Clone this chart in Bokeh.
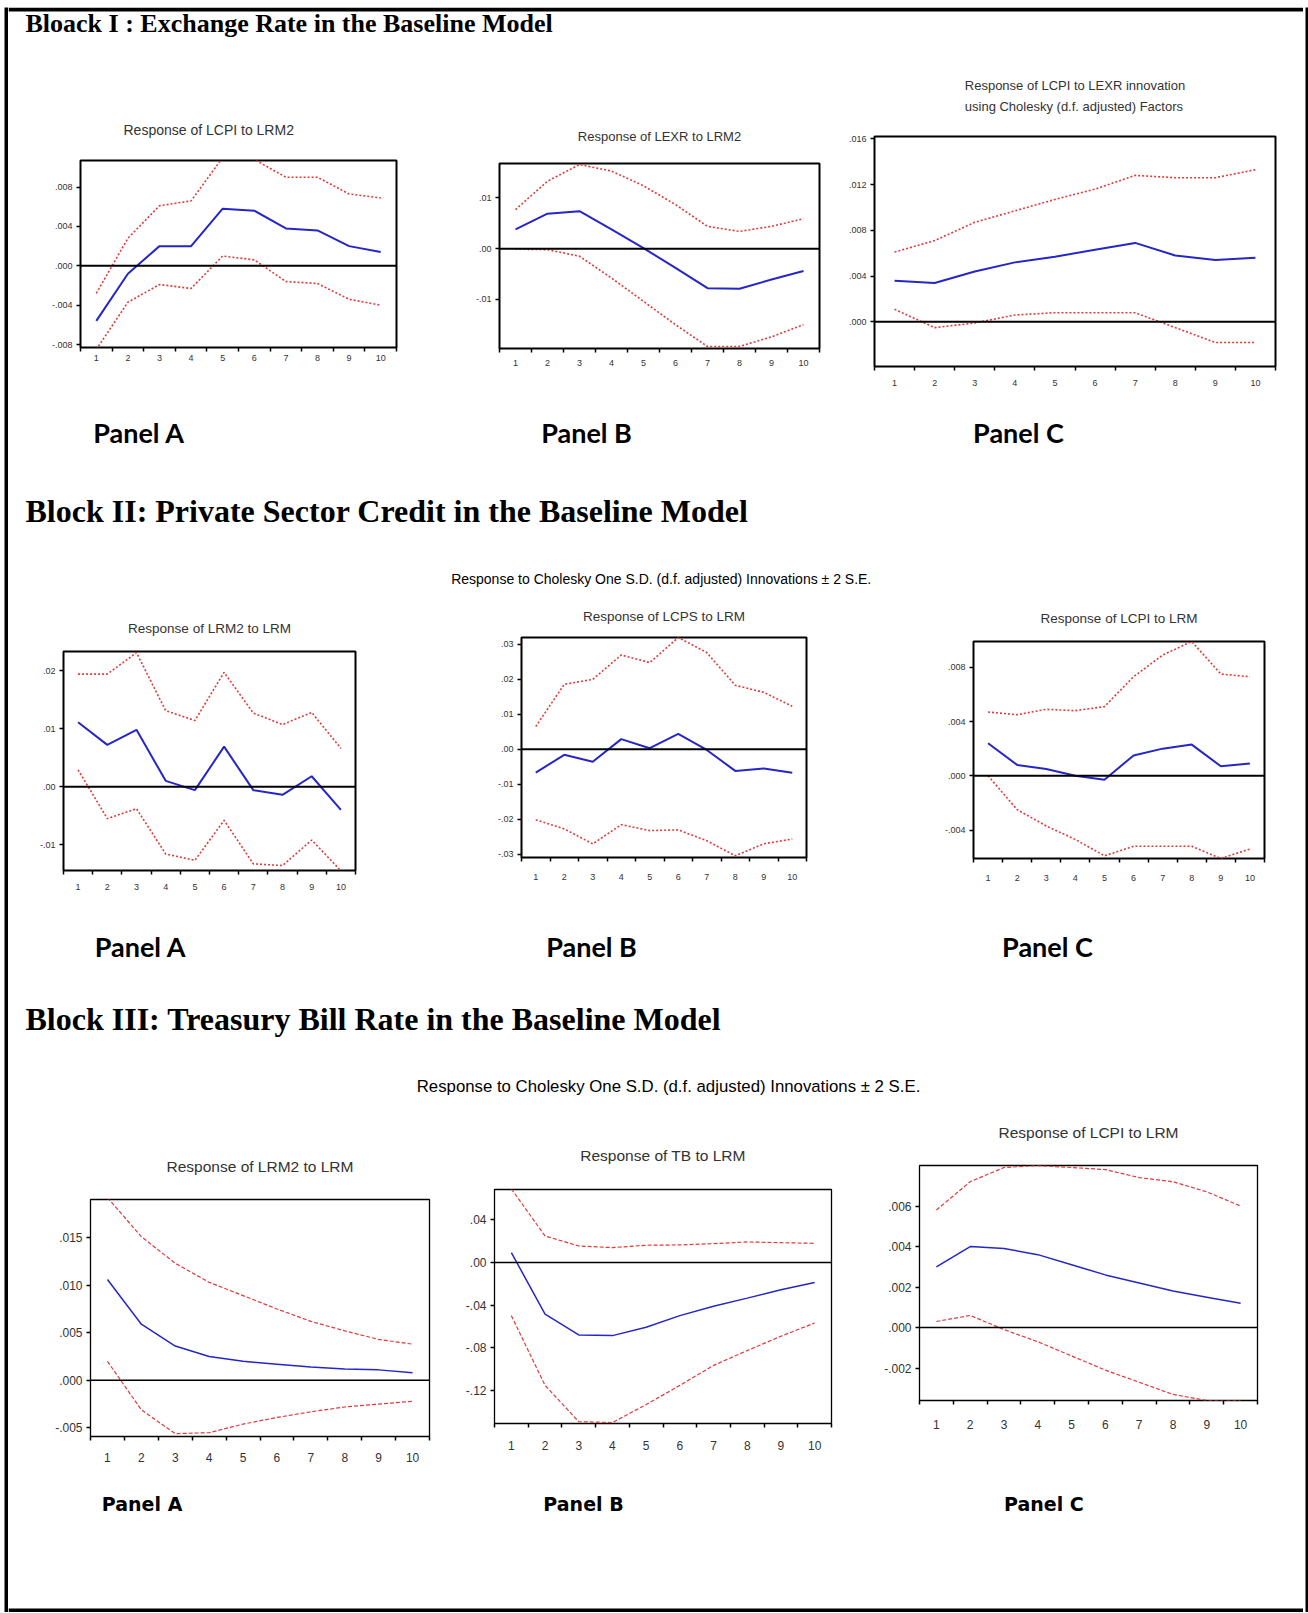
from bokeh.plotting import figure
from bokeh.models import Range1d, FixedTicker, CustomJSTickFormatter, Span, Spacer
from bokeh.layouts import row, column
from bokeh.core.properties import value
from bokeh.embed import file_html
from bokeh.resources import INLINE

# ---------------- data ----------------
periods = list(range(1, 11))

# Block I
a1_resp  = [-0.0056, -0.0008, 0.0020, 0.0020, 0.0058, 0.0056, 0.0038, 0.0036, 0.0020, 0.0014]
a1_upper = [-0.0028, 0.0028, 0.0061, 0.0066, 0.0110, 0.0108, 0.0090, 0.0090, 0.0073, 0.0069]
a1_lower = [-0.0085, -0.0037, -0.0019, -0.0023, 0.0010, 0.0006, -0.0016, -0.0018, -0.0034, -0.0040]

b1_resp  = [0.0038, 0.0069, 0.0074, 0.0038, 0.0001, -0.0038, -0.0078, -0.0079, -0.0061, -0.0044]
b1_upper = [0.0077, 0.0133, 0.0166, 0.0153, 0.0124, 0.0087, 0.0044, 0.0034, 0.0044, 0.0059]
b1_lower = [-0.0001, -0.0002, -0.0015, -0.0058, -0.0104, -0.0150, -0.0193, -0.0193, -0.0174, -0.0150]

c1_resp  = [0.0036, 0.0034, 0.0044, 0.0052, 0.0057, 0.0063, 0.0069, 0.0058, 0.0054, 0.0056]
c1_upper = [0.0061, 0.0071, 0.0087, 0.0097, 0.0107, 0.0116, 0.0128, 0.0126, 0.0126, 0.0133]
c1_lower = [0.0011, -0.0005, -0.0001, 0.0006, 0.0008, 0.0008, 0.0008, -0.0005, -0.0018, -0.0018]

# Block II
a2_resp  = [0.0111, 0.0072, 0.0098, 0.0010, -0.0006, 0.0069, -0.0006, -0.0014, 0.0018, -0.0040]
a2_upper = [0.0194, 0.0194, 0.0231, 0.0131, 0.0114, 0.0197, 0.0127, 0.0107, 0.0128, 0.0066]
a2_lower = [0.0029, -0.0055, -0.0038, -0.0116, -0.0127, -0.0058, -0.0133, -0.0136, -0.0092, -0.0145]

b2_resp  = [-0.0067, -0.0016, -0.0036, 0.0029, 0.0003, 0.0044, -0.0002, -0.0062, -0.0055, -0.0067]
b2_upper = [0.0065, 0.0186, 0.0200, 0.0270, 0.0248, 0.0320, 0.0277, 0.0183, 0.0163, 0.0123]
b2_lower = [-0.0202, -0.0228, -0.0271, -0.0216, -0.0233, -0.0231, -0.0262, -0.0305, -0.0271, -0.0257]

c2_resp  = [0.0024, 0.0008, 0.0005, 0.0000, -0.0003, 0.0015, 0.0020, 0.0023, 0.0007, 0.0009]
c2_upper = [0.0047, 0.0045, 0.0049, 0.0048, 0.0051, 0.0073, 0.0089, 0.0099, 0.0075, 0.0073]
c2_lower = [0.0000, -0.0025, -0.0037, -0.0047, -0.0059, -0.0052, -0.0052, -0.0052, -0.0061, -0.0054]

# Block III
a3_resp  = [0.0106, 0.0059, 0.0036, 0.0025, 0.0020, 0.0017, 0.0014, 0.0012, 0.0011, 0.0008]
a3_upper = [0.0192, 0.0151, 0.0123, 0.0103, 0.0089, 0.0075, 0.0062, 0.0052, 0.0043, 0.0038]
a3_lower = [0.0020, -0.0031, -0.0056, -0.0055, -0.0046, -0.0039, -0.0033, -0.0028, -0.0025, -0.0022]

b3_resp  = [0.0093, -0.0482, -0.0678, -0.0684, -0.0606, -0.0497, -0.0410, -0.0333, -0.0255, -0.0186]
b3_upper = [0.0690, 0.0249, 0.0155, 0.0140, 0.0162, 0.0165, 0.0177, 0.0193, 0.0186, 0.0180]
b3_lower = [-0.0497, -0.1150, -0.1490, -0.1498, -0.1330, -0.1150, -0.0963, -0.0824, -0.0690, -0.0566]

c3_resp  = [0.0030, 0.0040, 0.0039, 0.0036, 0.0031, 0.0026, 0.0022, 0.0018, 0.0015, 0.0012]
c3_upper = [0.0058, 0.0072, 0.0079, 0.0080, 0.0079, 0.0078, 0.0074, 0.0072, 0.0067, 0.0060]
c3_lower = [0.0003, 0.0006, -0.0001, -0.0007, -0.0014, -0.0021, -0.0027, -0.0033, -0.0036, -0.0036]

# tick values
a1_yticks = [-0.008, -0.004, 0.0, 0.004, 0.008]
b1_yticks = [-0.01, 0.0, 0.01]
c1_yticks = [-0.004, 0.0, 0.004, 0.008, 0.012, 0.016]
a2_yticks = [-0.01, 0.0, 0.01, 0.02]
b2_yticks = [-0.03, -0.02, -0.01, 0.0, 0.01, 0.02, 0.03]
c2_yticks = [-0.004, 0.0, 0.004, 0.008]
a3_yticks = [-0.005, 0.0, 0.005, 0.010, 0.015]
b3_yticks = [-0.12, -0.08, -0.04, 0.0, 0.04]
c3_yticks = [-0.002, 0.0, 0.002, 0.004, 0.006]

# texts
headings = ["Bloack I : Exchange Rate in the Baseline Model",
            "Block II: Private Sector Credit in the Baseline Model",
            "Block III: Treasury Bill Rate in the Baseline Model"]
panel_labels = ["Panel A", "Panel B", "Panel C"]
super_title = "Response to Cholesky One S.D. (d.f. adjusted) Innovations \u00b1 2 S.E."
titles = {
    "a1": "Response of LCPI to LRM2",
    "b1": "Response of LEXR to LRM2",
    "c1": "Response of LCPI to LEXR innovation\nusing Cholesky (d.f. adjusted) Factors",
    "a2": "Response of LRM2 to LRM",
    "b2": "Response of LCPS to LRM",
    "c2": "Response of LCPI to LRM",
    "a3": "Response of LRM2 to LRM",
    "b3": "Response of TB to LRM",
    "c3": "Response of LCPI to LRM",
}

# ---------------- layout constants (page px) ----------------
X0 = 8            # inner content left edge (page px)
INNER_W = 1295    # inner content width
BAR = 4
BLUE = "#2626c8"
RED = "#e03a3a"

STYLE1 = dict(tick_fs="9px", title_fs="13px", blue_w=2.0, red_w=1.6, red_dash="2 2",
              outline_w=2.0, zero_w=2.0)
STYLE2 = dict(tick_fs="9px", title_fs="13.5px", blue_w=2.0, red_w=1.6, red_dash="2 2",
              outline_w=2.0, zero_w=2.0)
STYLE3 = dict(tick_fs="12px", title_fs="15.5px", blue_w=1.5, red_w=1.2, red_dash="4 2",
              outline_w=1.3, zero_w=1.5)


def no_align(p):
    try:
        p.frame_align = False
    except Exception:
        pass


def make_panel(key, resp, upper, lower, yticks, dec, yr, frame, row_top, row_bot,
               st, standoff, xstand, left_offset=None, title_fs=None, line_height=None):
    L, R, T, B = frame
    ML, MR = 45, 10
    w = (R - L) + ML + MR
    h = row_bot - row_top
    tfs = title_fs or st["title_fs"]
    p = figure(width=w, height=h, x_range=Range1d(0.5, 10.5), y_range=Range1d(*yr),
               output_backend="svg", toolbar_location=None,
               min_border_left=ML, min_border_right=MR,
               min_border_top=T - row_top, min_border_bottom=row_bot - B,
               title=titles[key])
    no_align(p)
    if left_offset is None:
        p.title.align = "center"
    else:
        p.title.align = "left"
        p.title.offset = left_offset
    p.title.text_font = "Liberation Sans"
    p.title.text_font_style = "normal"
    p.title.text_font_size = tfs
    p.title.text_color = "#333333"
    p.title.standoff = standoff
    if line_height is not None:
        p.title.text_line_height = line_height
    p.grid.visible = False
    p.outline_line_color = "black"
    p.outline_line_width = st["outline_w"]
    p.background_fill_color = "white"

    xa = p.xaxis[0]
    xa.ticker = FixedTicker(ticks=periods, minor_ticks=[0.5 + i for i in range(11)])
    xa.axis_line_color = None
    xa.major_tick_line_color = None
    xa.major_tick_out = 0
    xa.major_tick_in = 0
    xa.minor_tick_out = 4
    xa.minor_tick_in = 0
    xa.minor_tick_line_color = "black"
    xa.minor_tick_line_width = 1.5
    xa.major_label_text_font = "Liberation Sans"
    xa.major_label_text_font_size = st["tick_fs"]
    xa.major_label_text_color = "#333333"
    xa.major_label_standoff = xstand

    ya = p.yaxis[0]
    ya.ticker = FixedTicker(ticks=yticks, minor_ticks=[])
    ya.formatter = CustomJSTickFormatter(code="return tick.toFixed(%d).replace('0.', '.');" % dec)
    ya.axis_line_color = None
    ya.major_tick_out = 4
    ya.major_tick_in = 0
    ya.major_tick_line_width = 1.5
    ya.minor_tick_line_color = None
    ya.major_label_text_font = "Liberation Sans"
    ya.major_label_text_font_size = st["tick_fs"]
    ya.major_label_text_color = "#333333"
    ya.major_label_standoff = 4

    p.add_layout(Span(location=0, dimension="width", line_color="black", line_width=st["zero_w"]))
    p.line(periods, upper, line_color=RED, line_width=st["red_w"], line_dash=st["red_dash"])
    p.line(periods, lower, line_color=RED, line_width=st["red_w"], line_dash=st["red_dash"])
    p.line(periods, resp, line_color=BLUE, line_width=st["blue_w"])
    return p, L - ML, L - ML + w


def panel_row(panels, height):
    children = []
    cur = X0
    for p, x0, x1 in panels:
        gap = x0 - cur
        if gap > 0:
            children.append(Spacer(width=gap, height=height))
        children.append(p)
        cur = x1
    end = X0 + INNER_W
    if end - cur > 0:
        children.append(Spacer(width=end - cur, height=height))
    return row(children)


def strip(h, items, top_border=False, bottom_border=False):
    p = figure(width=INNER_W, height=h, x_range=Range1d(0, INNER_W), y_range=Range1d(h, 0),
               output_backend="svg", toolbar_location=None, min_border=0,
               x_axis_location=None, y_axis_location=None, outline_line_color=None)
    no_align(p)
    p.grid.visible = False
    if top_border:
        p.quad(left=[0], right=[INNER_W], top=[0], bottom=[BAR], color="black", line_color=None)
    if bottom_border:
        p.quad(left=[0], right=[INNER_W], top=[h - BAR], bottom=[h], color="black", line_color=None)
    for (x, y, txt, font, size, style, align) in items:
        p.text(x=[x], y=[y], text=[txt], text_font=value(font), text_font_size=size,
               text_font_style=style, text_align=align, text_baseline="middle",
               text_color="black")
    return p


def bar(w, h):
    p = figure(width=w, height=h, output_backend="svg", toolbar_location=None, min_border=0,
               x_axis_location=None, y_axis_location=None, outline_line_color=None,
               background_fill_color="black", border_fill_color="black")
    no_align(p)
    p.grid.visible = False
    return p


# ---------------- rows (page y) ----------------
TOP = 7
R1T, R1B = 50, 400
R2T, R2B = 590, 903
R3T, R3B = 1095, 1478
BOT = 1612

pa1 = make_panel("a1", a1_resp, a1_upper, a1_lower, a1_yticks, 3, (-0.0083, 0.0107),
                 (80, 396, 160, 347), R1T, R1B, STYLE1, 46, 3, left_offset=43, title_fs="14px")
pb1 = make_panel("b1", b1_resp, b1_upper, b1_lower, b1_yticks, 2, (-0.0197, 0.0168),
                 (499, 819, 163, 348), R1T, R1B, STYLE1, 40, 7)
pc1 = make_panel("c1", c1_resp, c1_upper, c1_lower, c1_yticks, 3, (-0.0039, 0.0162),
                 (872, 1273, 136, 366), R1T, R1B, STYLE1, 46, 9, line_height=1.35)

pa2 = make_panel("a2", a2_resp, a2_upper, a2_lower, a2_yticks, 2, (-0.01445, 0.0233),
                 (63, 355, 651, 870), R2T, R2B, STYLE2, 31, 9)
pb2 = make_panel("b2", b2_resp, b2_upper, b2_lower, b2_yticks, 2, (-0.031, 0.032),
                 (521, 806, 637, 857), R2T, R2B, STYLE2, 28, 12)
pc2 = make_panel("c2", c2_resp, c2_upper, c2_lower, c2_yticks, 3, (-0.0061, 0.0099),
                 (973, 1264, 641, 858), R2T, R2B, STYLE2, 32, 12)

pa3 = make_panel("a3", a3_resp, a3_upper, a3_lower, a3_yticks, 3, (-0.0059, 0.019),
                 (90, 429, 1199, 1436), R3T, R3B, STYLE3, 50, 12)
pb3 = make_panel("b3", b3_resp, b3_upper, b3_lower, b3_yticks, 2, (-0.1507, 0.0684),
                 (494, 831, 1189, 1423), R3T, R3B, STYLE3, 52, 13)
pc3 = make_panel("c3", c3_resp, c3_upper, c3_lower, c3_yticks, 3, (-0.0036, 0.0080),
                 (919, 1257, 1165, 1400), R3T, R3B, STYLE3, 50, 15)

row1 = panel_row([pa1, pb1, pc1], R1B - R1T)
row2 = panel_row([pa2, pb2, pc2], R2B - R2T)
row3 = panel_row([pa3, pb3, pc3], R3B - R3T)

HEAD = "Liberation Serif"
LAB = "Lato"
s0 = strip(R1T - TOP, [(17, 15.6, headings[0], HEAD, "26px", "bold", "left")], top_border=True)
s1 = strip(R2T - R1B, [
    (130.5, 32, panel_labels[0], LAB, "27px", "bold", "center"),
    (578, 32, panel_labels[1], LAB, "27px", "bold", "center"),
    (1010, 32, panel_labels[2], LAB, "27px", "bold", "center"),
    (17, 110, headings[1], HEAD, "32px", "bold", "left"),
    (652.7, 178.6, super_title, "Liberation Sans", "14px", "normal", "center"),
])
s2 = strip(R3T - R2B, [
    (132, 43, panel_labels[0], LAB, "27px", "bold", "center"),
    (583, 43, panel_labels[1], LAB, "27px", "bold", "center"),
    (1039, 43, panel_labels[2], LAB, "27px", "bold", "center"),
    (17, 115, headings[2], HEAD, "32px", "bold", "left"),
    (660, 182.5, super_title, "Liberation Sans", "16.8px", "normal", "center"),
])
s3 = strip(BOT - R3B, [
    (133.6, 25, panel_labels[0], "DejaVu Sans", "19px", "bold", "center"),
    (575, 25, panel_labels[1], "DejaVu Sans", "19px", "bold", "center"),
    (1035.4, 25, panel_labels[2], "DejaVu Sans", "19px", "bold", "center"),
], bottom_border=True)

H = BOT - TOP
inner = column([s0, row1, s1, row2, s2, row3, s3])
framed = row([Spacer(width=4, height=H), bar(BAR, H), inner, bar(BAR, H)])
layout = column([Spacer(width=4 + 2 * BAR + INNER_W, height=TOP), framed])

open("out.html", "w").write(file_html(layout, INLINE))
